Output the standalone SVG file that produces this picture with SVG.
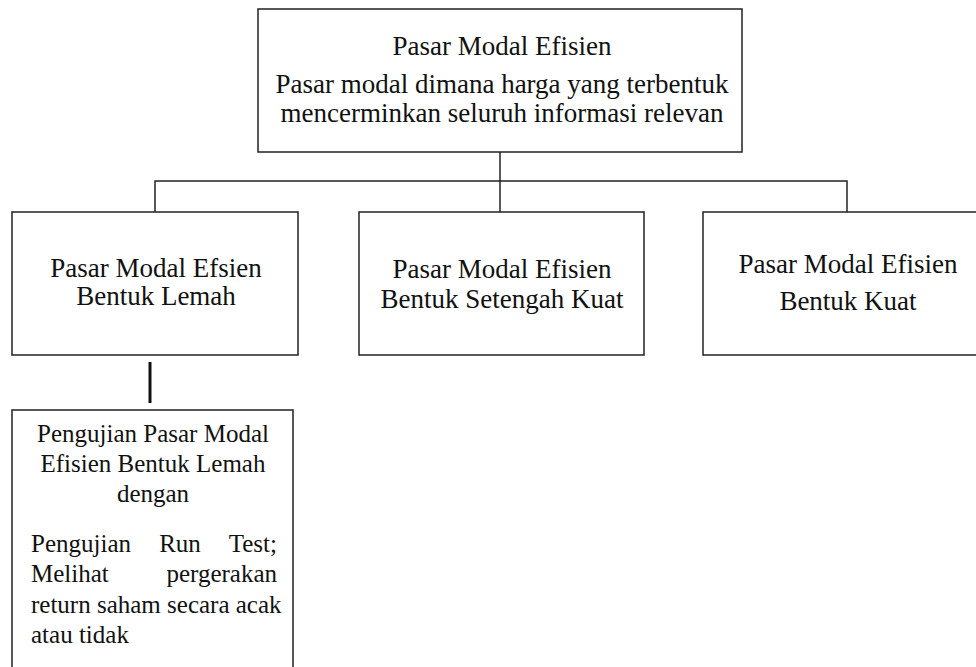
<svg xmlns="http://www.w3.org/2000/svg" width="976" height="667" viewBox="0 0 976 667">
<style>
.box{fill:#fff;stroke:#222;stroke-width:1.5}
.ln{fill:none;stroke:#222;stroke-width:1.5}
.c{text-anchor:middle}
</style>
<rect width="976" height="667" fill="#fff"/>
<g id="connectors">
<polyline class="ln" points="500,152 500,181"/>
<polyline class="ln" points="155,212 155,181 847,181 847,212"/>
<line class="ln" x1="500" y1="181" x2="500" y2="212"/>
<line x1="150" y1="362" x2="150" y2="403" stroke="#111" stroke-width="3"/>
</g>
<g font-family="Liberation Serif, Times New Roman, serif" font-size="27" fill="#111">
<g id="root">
<rect class="box" x="258" y="9" width="484" height="143"/>
<text class="c" x="502" y="55">Pasar Modal Efisien</text>
<text class="c" x="502" y="93">Pasar modal dimana harga yang terbentuk</text>
<text class="c" x="502" y="122">mencerminkan seluruh informasi relevan</text>
</g>
<g id="weak">
<rect class="box" x="12" y="212" width="286" height="143"/>
<text class="c" x="156" y="277">Pasar Modal Efsien</text>
<text class="c" x="156" y="305">Bentuk Lemah</text>
</g>
<g id="semi">
<rect class="box" x="359" y="212" width="285" height="143"/>
<text class="c" x="502" y="278">Pasar Modal Efisien</text>
<text class="c" x="502" y="308">Bentuk Setengah Kuat</text>
</g>
<g id="strong">
<rect class="box" x="703" y="212" width="290" height="143"/>
<text class="c" x="848" y="273">Pasar Modal Efisien</text>
<text class="c" x="848" y="310">Bentuk Kuat</text>
</g>
<g id="test" font-size="25">
<path class="ln" d="M12,667 V410 H293 V667"/>
<text class="c" x="153" y="442">Pengujian Pasar Modal</text>
<text class="c" x="153" y="472">Efisien Bentuk Lemah</text>
<text class="c" x="153" y="502">dengan</text>
<text x="31" y="552">Pengujian</text>
<text class="c" x="180" y="552">Run</text>
<text x="277" y="552" text-anchor="end">Test;</text>
<text x="31" y="582">Melihat</text>
<text x="277" y="582" text-anchor="end">pergerakan</text>
<text x="31" y="613">return saham secara acak</text>
<text x="31" y="643">atau tidak</text>
</g>
</g>
</svg>
